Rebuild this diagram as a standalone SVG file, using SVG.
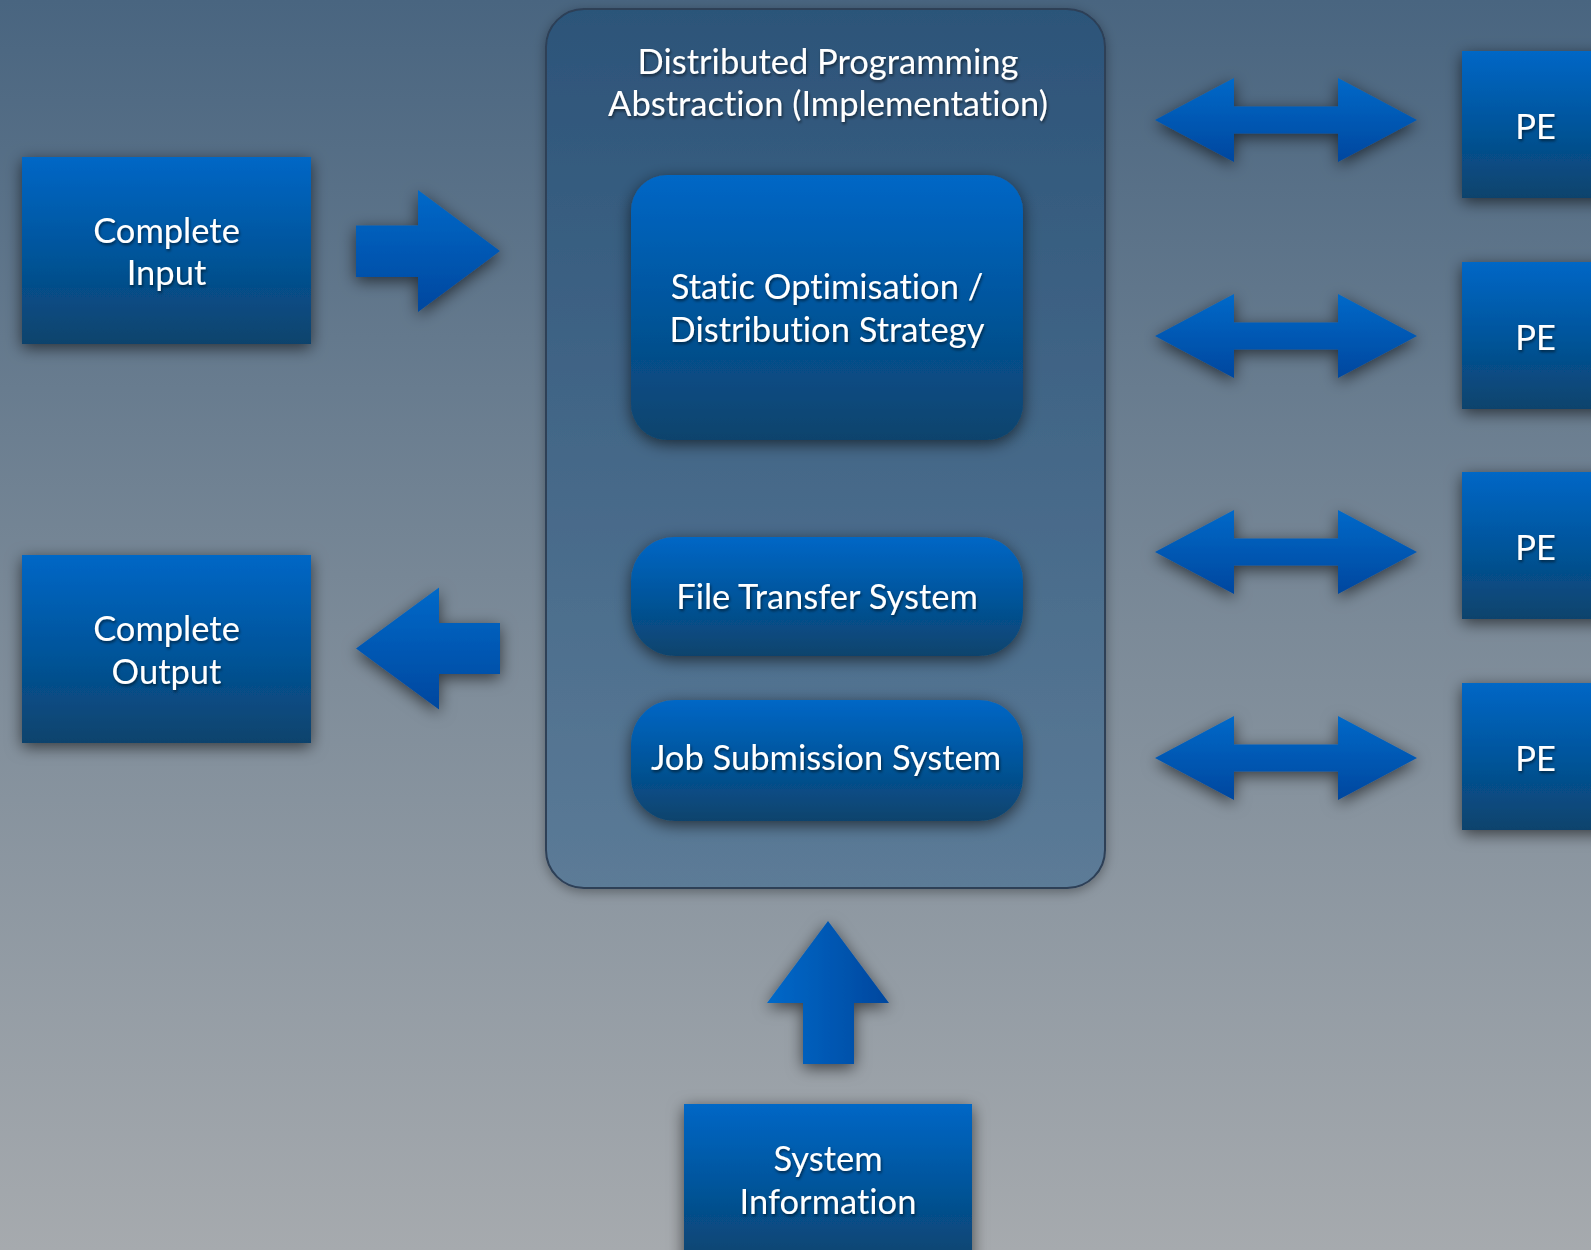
<svg xmlns="http://www.w3.org/2000/svg" width="1591" height="1250" viewBox="0 0 1591 1250">
  <defs>
    <linearGradient id="bg" x1="0" y1="0" x2="0" y2="1">
      <stop offset="0" stop-color="#496580"/>
      <stop offset="0.5" stop-color="#7b8a98"/>
      <stop offset="1" stop-color="#a6aaae"/>
    </linearGradient>
    <linearGradient id="panel" x1="0" y1="0" x2="0" y2="1">
      <stop offset="0" stop-color="#2c5479"/>
      <stop offset="1" stop-color="#5c7b97"/>
    </linearGradient>
    <linearGradient id="boxFill" x1="0" y1="0" x2="0" y2="1">
      <stop offset="0" stop-color="#0067c6"/>
      <stop offset="0.5" stop-color="#03559c"/>
      <stop offset="1" stop-color="#0b436c"/>
    </linearGradient>
    <linearGradient id="arrowV" x1="0" y1="0" x2="0" y2="1">
      <stop offset="0" stop-color="#0069c9"/>
      <stop offset="1" stop-color="#05479e"/>
    </linearGradient>
    <linearGradient id="arrowH" x1="0" y1="0" x2="1" y2="0">
      <stop offset="0" stop-color="#0069c9"/>
      <stop offset="1" stop-color="#05479e"/>
    </linearGradient>
    <filter id="shadow" x="-30%" y="-30%" width="160%" height="160%">
      <feDropShadow dx="0" dy="4" stdDeviation="8" flood-color="#000" flood-opacity="0.6"/>
    </filter>
    <filter id="panelShadow" x="-10%" y="-10%" width="120%" height="120%">
      <feDropShadow dx="0" dy="3" stdDeviation="6" flood-color="#000" flood-opacity="0.35"/>
    </filter>
    <filter id="textShadow" x="-10%" y="-30%" width="120%" height="160%">
      <feDropShadow dx="1" dy="2" stdDeviation="1.5" flood-color="#000" flood-opacity="0.55"/>
    </filter>
  </defs>
  <style>
    .box { fill: url(#boxFill); filter: url(#shadow); }
    .label { font-family: Lato, "Open Sans", "Liberation Sans", sans-serif; font-size: 34.5px; fill: #ffffff; text-anchor: middle; font-variant-ligatures: none; font-feature-settings: "liga" 0, "clig" 0; filter: url(#textShadow); }
    .arrowV { fill: url(#arrowV); filter: url(#shadow); }
    .arrowH { fill: url(#arrowH); filter: url(#shadow); }
  </style>

  <!-- background -->
  <rect x="0" y="0" width="1591" height="1250" fill="url(#bg)"/>

  <!-- container for the distributed programming layer -->
  <g id="abstraction">
    <rect x="546" y="9" width="559" height="879" rx="38" ry="38" fill="url(#panel)" stroke="#2d3f57" stroke-width="2" filter="url(#panelShadow)"/>
    <text class="label" x="828" y="74">Distributed Programming</text>
    <text class="label" x="828" y="116">Abstraction (Implementation)</text>
  </g>

  <g id="strategy">
    <rect class="box" x="631" y="175" width="392" height="265" rx="36" ry="36"/>
    <text class="label" x="827" y="299">Static Optimisation /</text>
    <text class="label" x="827" y="342">Distribution Strategy</text>
  </g>

  <g id="file-transfer">
    <rect class="box" x="631" y="537" width="392" height="119" rx="44" ry="44"/>
    <text class="label" x="827" y="609">File Transfer System</text>
  </g>

  <g id="job-submission">
    <rect class="box" x="631" y="700" width="392" height="121" rx="44" ry="44"/>
    <text class="label" x="826" y="770">Job Submission System</text>
  </g>

  <g id="complete-input">
    <rect class="box" x="22" y="157" width="289" height="187"/>
    <text class="label" x="166.5" y="242.5">Complete</text>
    <text class="label" x="166.5" y="285">Input</text>
  </g>

  <g id="complete-output">
    <rect class="box" x="22" y="555" width="289" height="188"/>
    <text class="label" x="166.5" y="641">Complete</text>
    <text class="label" x="166.5" y="683.5">Output</text>
  </g>

  <g id="system-information">
    <rect class="box" x="684" y="1104" width="288" height="160"/>
    <text class="label" x="828" y="1171">System</text>
    <text class="label" x="828" y="1214">Information</text>
  </g>

  <g id="pe-1">
    <rect class="box" x="1462" y="51" width="147" height="147"/>
    <text class="label" x="1535.5" y="139">PE</text>
  </g>
  <g id="pe-2">
    <rect class="box" x="1462" y="262" width="147" height="147"/>
    <text class="label" x="1535.5" y="350">PE</text>
  </g>
  <g id="pe-3">
    <rect class="box" x="1462" y="472" width="147" height="147"/>
    <text class="label" x="1535.5" y="560">PE</text>
  </g>
  <g id="pe-4">
    <rect class="box" x="1462" y="683" width="147" height="147"/>
    <text class="label" x="1535.5" y="771">PE</text>
  </g>

  <!-- block arrows between the components -->
  <g id="connectors">
    <polygon class="arrowV" points="356,225.5 418,225.5 418,190 500,251 418,312 418,277 356,277"/>
    <polygon class="arrowV" points="500,623 439,623 439,587.5 356,648.5 439,709.5 439,674 500,674"/>
    <polygon class="arrowV" points="1155,120 1234,78 1234,106.5 1338,106.5 1338,78 1417,120 1338,162 1338,133.5 1234,133.5 1234,162"/>
    <polygon class="arrowV" points="1155,336 1234,294 1234,322.5 1338,322.5 1338,294 1417,336 1338,378 1338,349.5 1234,349.5 1234,378"/>
    <polygon class="arrowV" points="1155,552 1234,510 1234,538.5 1338,538.5 1338,510 1417,552 1338,594 1338,565.5 1234,565.5 1234,594"/>
    <polygon class="arrowV" points="1155,758 1234,716 1234,744.5 1338,744.5 1338,716 1417,758 1338,800 1338,771.5 1234,771.5 1234,800"/>
    <polygon class="arrowH" points="828,921 889,1003 854,1003 854,1064 803,1064 803,1003 767,1003"/>
  </g>
</svg>
